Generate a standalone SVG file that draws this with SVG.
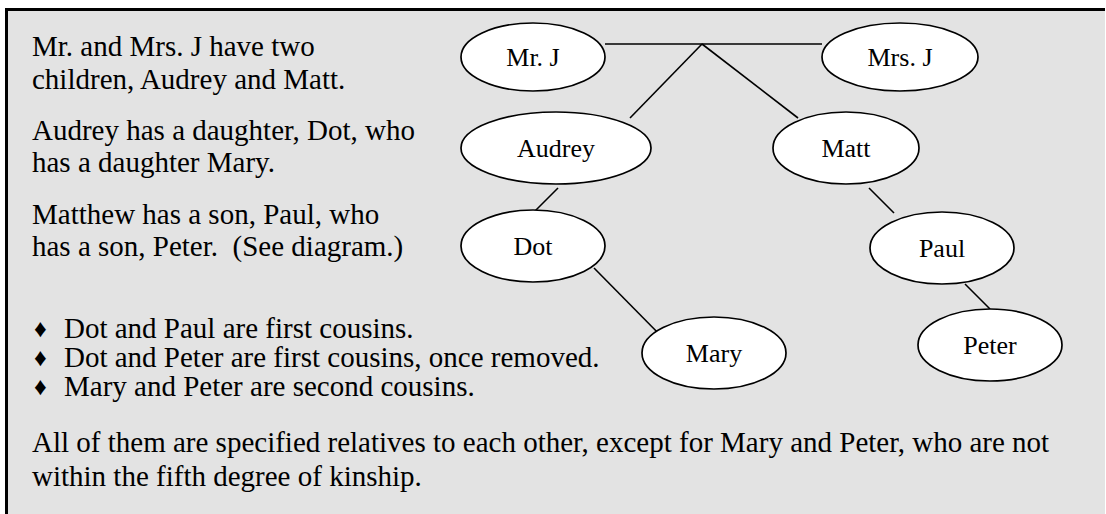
<svg xmlns="http://www.w3.org/2000/svg" width="1106" height="514" viewBox="0 0 1106 514">
<style>
.bg{fill:#e3e3e3}
.bd{fill:#000}
.t{font-family:'Liberation Serif',serif;font-size:29px;fill:#000}
.n{font-family:'Liberation Serif',serif;font-size:26px;fill:#000;text-anchor:middle}
.b{font-family:'Liberation Serif',serif;font-size:25px;fill:#000}
ellipse{fill:#fff;stroke:#000;stroke-width:1.7}
.c line{stroke:#000;stroke-width:1.6}
</style>
<rect width="1106" height="514" fill="#fff"/>
<rect class="bg" x="8" y="11" width="1097" height="503"/>
<rect class="bd" x="5" y="8" width="1100" height="3"/>
<rect class="bd" x="5" y="8" width="3" height="506"/>
<g id="text-left">
<text class="t" x="32" y="56">Mr. and Mrs. J have two</text>
<text class="t" x="32" y="89">children, Audrey and Matt.</text>
<text class="t" x="32" y="140">Audrey has a daughter, Dot, who</text>
<text class="t" x="32" y="172">has a daughter Mary.</text>
<text class="t" x="32" y="224">Matthew has a son, Paul, who</text>
<text class="t" x="32" y="256" xml:space="preserve">has a son, Peter.  (See diagram.)</text>
</g>
<g id="bullets">
<text class="b" x="34" y="337">♦</text>
<text class="t" x="64" y="338">Dot and Paul are first cousins.</text>
<text class="b" x="34" y="366">♦</text>
<text class="t" x="64" y="367">Dot and Peter are first cousins, once removed.</text>
<text class="b" x="34" y="395">♦</text>
<text class="t" x="64" y="396">Mary and Peter are second cousins.</text>
</g>
<g id="text-bottom">
<text class="t" x="32" y="452">All of them are specified relatives to each other, except for Mary and Peter, who are not</text>
<text class="t" x="32" y="486">within the fifth degree of kinship.</text>
</g>
<g class="c" id="connectors">
<line x1="605" y1="44" x2="822" y2="44"/>
<line x1="702" y1="44" x2="630" y2="118"/>
<line x1="702" y1="44" x2="798" y2="118"/>
<line x1="558" y1="188" x2="534" y2="212"/>
<line x1="869" y1="188" x2="894" y2="213"/>
<line x1="594" y1="268" x2="666" y2="341"/>
<line x1="965" y1="284" x2="990" y2="309"/>
</g>
<g id="node-mrj"><ellipse cx="533" cy="57" rx="72" ry="34"/><text class="n" x="533" y="66">Mr. J</text></g>
<g id="node-mrsj"><ellipse cx="900" cy="57" rx="78" ry="34"/><text class="n" x="900" y="66">Mrs. J</text></g>
<g id="node-audrey"><ellipse cx="556" cy="148" rx="95" ry="36"/><text class="n" x="556" y="157">Audrey</text></g>
<g id="node-matt"><ellipse cx="846" cy="148" rx="73" ry="36"/><text class="n" x="846" y="157">Matt</text></g>
<g id="node-dot"><ellipse cx="533" cy="246" rx="72" ry="36"/><text class="n" x="533" y="255">Dot</text></g>
<g id="node-paul"><ellipse cx="942" cy="248" rx="72" ry="36"/><text class="n" x="942" y="257">Paul</text></g>
<g id="node-mary"><ellipse cx="714" cy="353" rx="72" ry="36"/><text class="n" x="714" y="362">Mary</text></g>
<g id="node-peter"><ellipse cx="990" cy="345" rx="72" ry="36"/><text class="n" x="990" y="354">Peter</text></g>
</svg>
